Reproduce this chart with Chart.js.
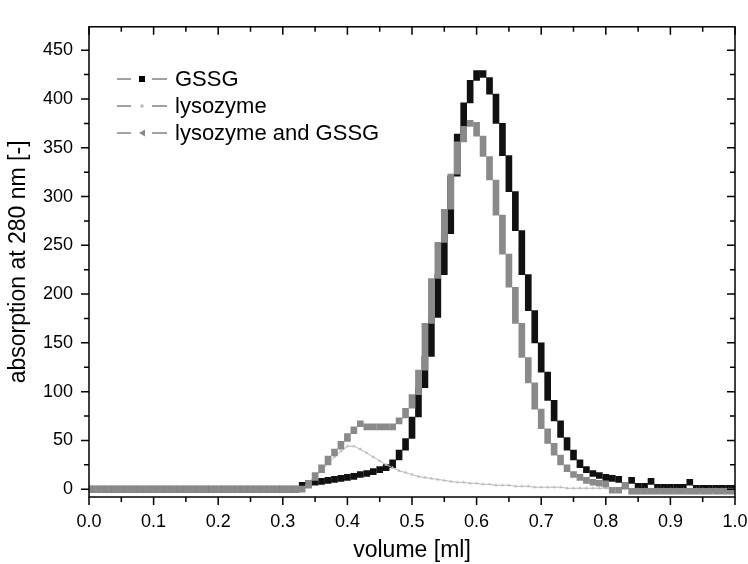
<!DOCTYPE html>
<html>
<head>
<meta charset="utf-8">
<script src="https://cdn.jsdelivr.net/npm/chart.js@4.4.1/dist/chart.umd.min.js"></script>
<style>
  body { margin: 0; background: #fff; }
  #wrap { width: 748px; height: 564px; }
</style>
</head>
<body>
<div id="wrap"><canvas id="chart" width="748" height="564"></canvas></div>
<script>
// elution volume [ml], one step per fraction
const volume = [
  0.00, 0.01, 0.02, 0.03, 0.04, 0.05, 0.06, 0.07, 0.08, 0.09,
  0.10, 0.11, 0.12, 0.13, 0.14, 0.15, 0.16, 0.17, 0.18, 0.19,
  0.20, 0.21, 0.22, 0.23, 0.24, 0.25, 0.26, 0.27, 0.28, 0.29,
  0.30, 0.31, 0.32, 0.33, 0.34, 0.35, 0.36, 0.37, 0.38, 0.39,
  0.40, 0.41, 0.42, 0.43, 0.44, 0.45, 0.46, 0.47, 0.48, 0.49,
  0.50, 0.51, 0.52, 0.53, 0.54, 0.55, 0.56, 0.57, 0.58, 0.59,
  0.60, 0.61, 0.62, 0.63, 0.64, 0.65, 0.66, 0.67, 0.68, 0.69,
  0.70, 0.71, 0.72, 0.73, 0.74, 0.75, 0.76, 0.77, 0.78, 0.79,
  0.80, 0.81, 0.82, 0.83, 0.84, 0.85, 0.86, 0.87, 0.88, 0.89,
  0.90, 0.91, 0.92, 0.93, 0.94, 0.95, 0.96, 0.97, 0.98, 0.99,
  1.00
];

// absorption at 280 nm
const gssg = [
  0, 0, 0, 0, 0, 0, 0, 0, 0, 0,
  0, 0, 0, 0, 0, 0, 0, 0, 0, 0,
  0, 0, 0, 0, 0, 0, 0, 0, 0, 0,
  0, 0, 0, 1, 3, 4, 5, 6, 7, 8,
  9, 10, 12, 13, 15, 17, 19, 22, 30, 40,
  52, 74, 104, 136, 176, 220, 262, 321, 364, 396,
  419, 429, 422, 405, 375, 342, 305, 265, 220, 183,
  150, 120, 91, 70, 53, 40, 30, 22, 17, 13,
  11, 9, 8, 7, 7, 6, 6, 6, 5, 5,
  5, 5, 5, 5, 4, 4, 4, 4, 4, 4,
  4
];

const lysozyme = [
  0, 0, 0, 0, 0, 0, 0, 0, 0, 0,
  0, 0, 0, 0, 0, 0, 0, 0, 0, 0,
  0, 0, 0, 0, 0, 0, 0, 0, 0, 0,
  0, 0, 0, 1, 6, 12, 19, 26, 33, 39,
  44, 44, 41, 37, 33, 29, 25, 22, 19, 17,
  15, 13, 12, 11, 10, 9, 8, 7, 7, 6,
  6, 5, 5, 4, 4, 4, 3, 3, 3, 2,
  2, 2, 2, 2, 1, 1, 1, 1, 1, 1,
  1, 0, 0, 0, 0, 0, 0, 0, 0, 0,
  0, 0, 0, 0, 0, 0, 0, 0, 0, 0,
  0
];

const lysozymeGssg = [
  0, 0, 0, 0, 0, 0, 0, 0, 0, 0,
  0, 0, 0, 0, 0, 0, 0, 0, 0, 0,
  0, 0, 0, 0, 0, 0, 0, 0, 0, 0,
  0, 0, 0, 0, 1, 9, 17, 25, 34, 41,
  49, 57, 64, 67, 67, 67, 67, 67, 67, 73,
  83, 97, 122, 170, 216, 253, 287, 323, 356, 372,
  376, 362, 341, 317, 281, 241, 207, 170, 135, 109,
  82, 62, 47, 35, 25, 18, 12, 9, 6, 4,
  3, 2, 2, 2, 1, 1, 1, 1, 1, 1,
  1, 1, 1, 1, 1, 1, 1, 1, 1, 1,
  1
];

const xTickValues = [0, 0.05, 0.1, 0.15, 0.2, 0.25, 0.3, 0.35, 0.4, 0.45, 0.5,
  0.55, 0.6, 0.65, 0.7, 0.75, 0.8, 0.85, 0.9, 0.95, 1.0];
const yTickValues = [0, 25, 50, 75, 100, 125, 150, 175, 200, 225, 250,
  275, 300, 325, 350, 375, 400, 425, 450];

const FONT = "'Liberation Sans', Arial, sans-serif";

// each step of the trace is a column from one reading to the next
function columns(values) {
  return volume.map((v, i) => ({
    x: v,
    y: [values[i], values[Math.min(i + 1, values.length - 1)]]
  }));
}

// only the labelled (major) ticks get text
function majorTicks(values) {
  return scale => {
    scale.ticks = values.filter((v, i) => i % 2 === 0).map(v => ({ value: v }));
  };
}

// box, minor ticks and the mirrored ticks on top / right
const frame = {
  id: 'frame',
  afterDraw(chart) {
    const { ctx, chartArea: a, scales: { x, y } } = chart;
    ctx.save();
    ctx.strokeStyle = '#000';
    ctx.lineWidth = 1.5;
    ctx.strokeRect(a.left, a.top, a.right - a.left, a.bottom - a.top);
    ctx.beginPath();
    xTickValues.forEach((v, i) => {
      const px = x.getPixelForValue(v);
      const len = i % 2 === 0 ? 8 : 5;
      ctx.moveTo(px, a.bottom); ctx.lineTo(px, a.bottom + len);
      ctx.moveTo(px, a.top); ctx.lineTo(px, a.top + len);
    });
    yTickValues.forEach((v, i) => {
      const py = y.getPixelForValue(v);
      const len = i % 2 === 0 ? 8 : 5;
      ctx.moveTo(a.left, py); ctx.lineTo(a.left - len, py);
      ctx.moveTo(a.right, py); ctx.lineTo(a.right - len, py);
    });
    ctx.stroke();
    ctx.restore();
  }
};

// legend in the Origin style: line - symbol - line
const originLegend = {
  id: 'originLegend',
  afterDraw(chart) {
    const ctx = chart.ctx;
    const items = [
      { text: 'GSSG', y: 79, mark: 'square' },
      { text: 'lysozyme', y: 106, mark: 'dot' },
      { text: 'lysozyme and GSSG', y: 133, mark: 'triangle' }
    ];
    ctx.save();
    ctx.font = '22px ' + FONT;
    ctx.textBaseline = 'middle';
    items.forEach(it => {
      ctx.strokeStyle = '#444';
      ctx.lineWidth = 1;
      ctx.beginPath();
      ctx.moveTo(117, it.y); ctx.lineTo(131, it.y);
      ctx.moveTo(152, it.y); ctx.lineTo(167, it.y);
      ctx.stroke();
      if (it.mark === 'square') {
        ctx.fillStyle = '#000';
        ctx.fillRect(139, it.y - 3, 6, 6);
      } else if (it.mark === 'dot') {
        ctx.fillStyle = '#bbb';
        ctx.beginPath();
        ctx.arc(142, it.y, 1.8, 0, Math.PI * 2);
        ctx.fill();
      } else {
        ctx.fillStyle = '#888';
        ctx.beginPath();
        ctx.moveTo(139, it.y);
        ctx.lineTo(145, it.y - 3.5);
        ctx.lineTo(145, it.y + 3.5);
        ctx.closePath();
        ctx.fill();
      }
      ctx.fillStyle = '#000';
      ctx.fillText(it.text, 175, it.y + 1);
    });
    ctx.restore();
  }
};

new Chart(document.getElementById('chart'), {
  data: {
    datasets: [{
      type: 'bar',
      label: 'GSSG',
      data: columns(gssg),
      backgroundColor: '#111',
      barThickness: 6,
      minBarLength: 6,
      grouped: false,
      order: 3
    }, {
      type: 'line',
      label: 'lysozyme',
      data: volume.map((v, i) => ({ x: v, y: lysozyme[i] })),
      borderColor: '#b8b8b8',
      borderWidth: 1,
      pointStyle: 'triangle',
      pointRadius: 2,
      pointBackgroundColor: '#bdbdbd',
      pointBorderWidth: 0,
      order: 2
    }, {
      type: 'bar',
      label: 'lysozyme and GSSG',
      data: columns(lysozymeGssg),
      backgroundColor: '#8a8a8a',
      barThickness: 6,
      minBarLength: 6,
      grouped: false,
      order: 1
    }]
  },
  options: {
    responsive: false,
    animation: false,
    layout: { padding: { top: 13, right: 0, left: 0, bottom: 0 } },
    plugins: {
      legend: { display: false },
      tooltip: { enabled: false }
    },
    scales: {
      x: {
        type: 'linear',
        min: 0,
        max: 1,
        offset: false,
        afterBuildTicks: majorTicks(xTickValues),
        grid: { display: false, drawTicks: false },
        border: { display: false },
        ticks: {
          callback: v => v.toFixed(1),
          color: '#000',
          font: { family: FONT, size: 18 },
          padding: 14,
          maxRotation: 0,
          autoSkip: false
        },
        title: {
          display: true,
          text: 'volume [ml]',
          color: '#000',
          font: { family: FONT, size: 23, lineHeight: 1.2 },
          padding: 0
        },
        afterFit: s => {
          s.height = 67;
          s.paddingLeft = 0;
          s.paddingRight = 13;
        }
      },
      y: {
        type: 'linear',
        min: -8,
        max: 474,
        afterBuildTicks: majorTicks(yTickValues),
        grid: { display: false, drawTicks: false },
        border: { display: false },
        ticks: {
          color: '#000',
          font: { family: FONT, size: 18 },
          padding: 16,
          autoSkip: false
        },
        title: {
          display: true,
          text: 'absorption at 280 nm [-]',
          color: '#000',
          font: { family: FONT, size: 23, lineHeight: 1.2 },
          padding: { top: 5, bottom: 0 }
        },
        afterFit: s => { s.width = 89; }
      }
    }
  },
  plugins: [frame, originLegend]
});
</script>
</body>
</html>
